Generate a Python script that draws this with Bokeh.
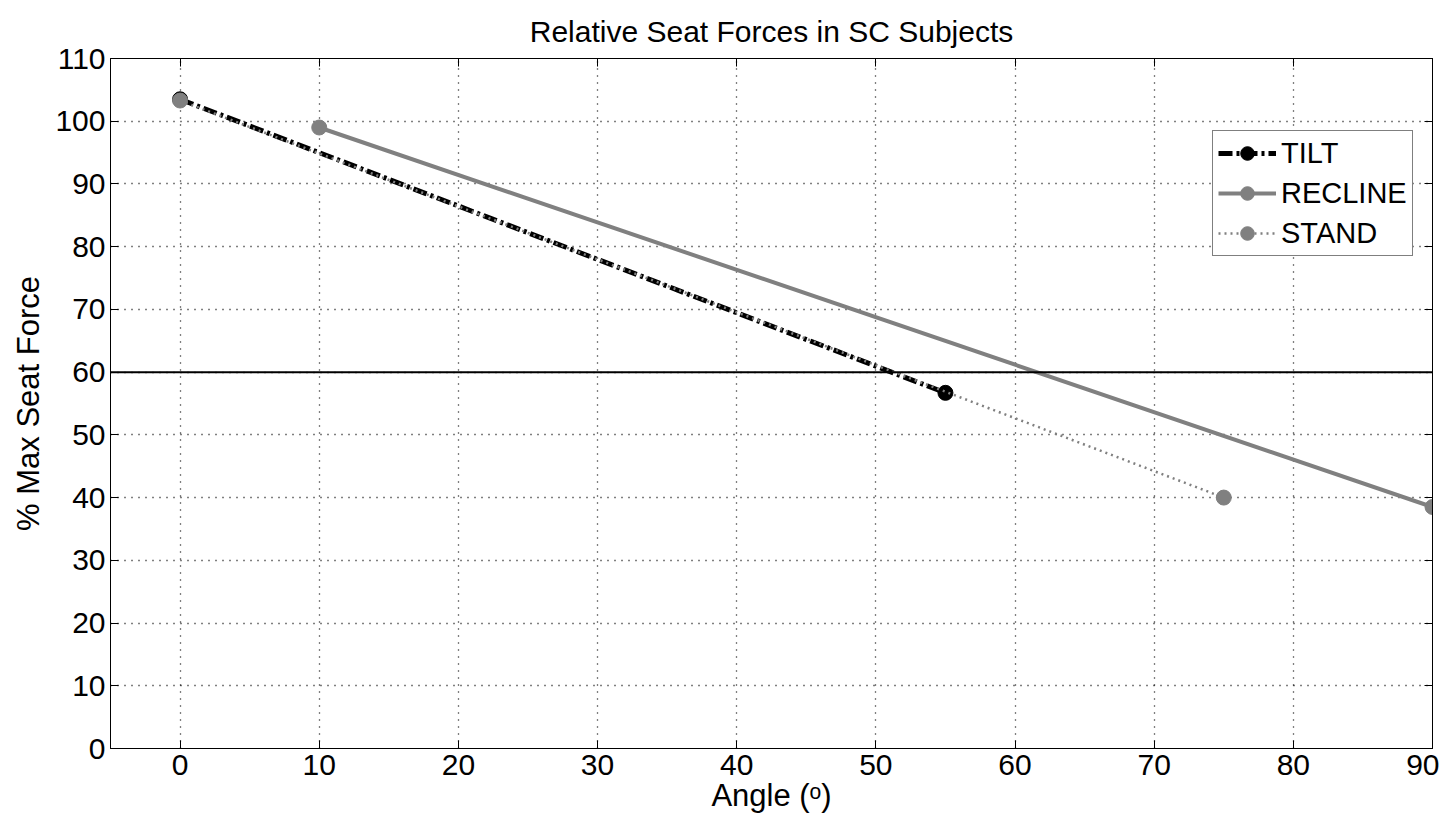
from bokeh.plotting import figure
from bokeh.models import LinearAxis, Range1d, FixedTicker, Span, Legend, LegendItem
from bokeh.embed import file_html
from bokeh.resources import INLINE

# Data
tilt_x = [0, 55]
tilt_y = [103.5, 56.7]
recline_x = [10, 90]
recline_y = [99.0, 38.5]
stand_x = [0, 75]
stand_y = [103.3, 40.0]
threshold = 60
x_ticks = [0, 10, 20, 30, 40, 50, 60, 70, 80, 90]
y_ticks = [0, 10, 20, 30, 40, 50, 60, 70, 80, 90, 100, 110]

FONT = "Liberation Sans"

p = figure(width=1439, height=824, output_backend="svg", toolbar_location=None,
           x_range=Range1d(-5, 90), y_range=Range1d(0, 110),
           min_border_left=110, min_border_right=7, min_border_top=58, min_border_bottom=76,
           x_axis_label="Angle (ᵒ)", y_axis_label="% Max Seat Force")
p.title.text = "Relative Seat Forces in SC Subjects"
p.title.align = "center"
p.title.vertical_align = "top"
p.title.text_font = FONT
p.title.text_font_size = "30px"
p.title.text_font_style = "normal"
p.title.text_color = "black"
p.title.offset = 0
p.title.standoff = 18
p.outline_line_color = "black"
p.outline_line_width = 1
p.background_fill_color = "white"
p.border_fill_color = "white"

for ax in [p.xaxis[0], p.yaxis[0]]:
    ax.major_tick_in = 8
    ax.major_tick_out = 0
    ax.minor_tick_in = 0
    ax.minor_tick_out = 0
    ax.axis_line_color = "black"
    ax.major_tick_line_color = "black"
    ax.major_label_text_font = FONT
    ax.major_label_text_font_size = "30px"
    ax.major_label_text_color = "black"
    ax.axis_label_text_font = FONT
    ax.axis_label_text_font_size = "31px"
    ax.axis_label_text_font_style = "normal"
    ax.axis_label_text_color = "black"
p.xaxis[0].ticker = FixedTicker(ticks=x_ticks)
p.yaxis[0].ticker = FixedTicker(ticks=y_ticks)
p.xaxis[0].major_label_standoff = 6
p.yaxis[0].major_label_standoff = 5
p.xaxis[0].axis_label_standoff = 0
p.yaxis[0].axis_label_standoff = 6

top = LinearAxis(ticker=FixedTicker(ticks=x_ticks), major_label_text_color=None,
                 major_tick_in=8, major_tick_out=0, minor_tick_in=0, minor_tick_out=0,
                 major_label_standoff=0,
                 major_label_text_font_size="1px", axis_line_color="black")
right = LinearAxis(ticker=FixedTicker(ticks=y_ticks), major_label_text_color=None,
                   major_tick_in=8, major_tick_out=0, minor_tick_in=0, minor_tick_out=0,
                   major_label_standoff=0,
                   major_label_text_font_size="1px", axis_line_color="black")
p.add_layout(top, "above")
p.add_layout(right, "right")

p.xgrid.ticker = FixedTicker(ticks=x_ticks)
p.ygrid.ticker = FixedTicker(ticks=y_ticks)
for g in [p.xgrid[0], p.ygrid[0]]:
    g.grid_line_color = "black"
    g.grid_line_dash = "1 6"
    g.grid_line_width = 1.3

p.add_layout(Span(location=threshold, dimension="width", line_color="black", line_width=2))

tl = p.line(tilt_x, tilt_y, line_color="black", line_width=5, line_dash="14 4 3 4")
ts = p.scatter(tilt_x, tilt_y, marker="circle", size=15, fill_color="black", line_color="black")
rl = p.line(recline_x, recline_y, line_color="#808080", line_width=4)
rs = p.scatter(recline_x, recline_y, marker="circle", size=15, fill_color="#808080", line_color="#808080")
sl = p.line(stand_x, stand_y, line_color="#808080", line_width=2.5, line_dash="2 4")
ss = p.scatter(stand_x, stand_y, marker="circle", size=15, fill_color="#808080", line_color="#808080")

legend = Legend(items=[LegendItem(label="TILT", renderers=[tl, ts]),
                       LegendItem(label="RECLINE", renderers=[rl, rs]),
                       LegendItem(label="STAND", renderers=[sl, ss])],
                location=(1102, 492))
legend.border_line_color = "black"
legend.border_line_width = 1
legend.label_text_font = FONT
legend.label_text_font_size = "29px"
legend.label_text_color = "black"
legend.glyph_width = 58
legend.glyph_height = 34
legend.label_height = 34
legend.spacing = 6
legend.padding = 5
legend.margin = 0
legend.label_standoff = 5
legend.background_fill_alpha = 1
p.add_layout(legend, "center")

open("out.html", "w").write(file_html(p, INLINE))
